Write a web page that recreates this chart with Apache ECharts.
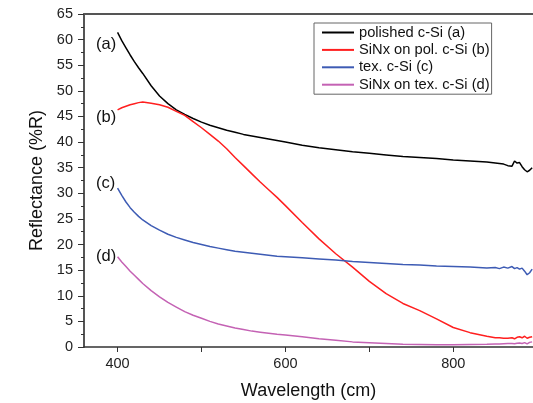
<!DOCTYPE html>
<html>
<head>
<meta charset="utf-8">
<script src="https://cdn.jsdelivr.net/npm/echarts@6/dist/echarts.min.js"></script>
<style>
  html, body { margin: 0; padding: 0; background: #fff; }
  #chart { width: 533px; height: 403px; }
</style>
</head>
<body>
<div id="chart"></div>
<script>
  // wavelength grid (nm), shared by all four spectra
  const wavelength = [400, 405, 410, 415, 420, 425, 430, 440, 450, 460, 470, 480, 490, 500, 510, 520, 530, 540, 550, 560,
    570, 580, 590, 600, 620, 640, 660, 680, 700, 720, 740, 760, 780, 800, 820, 840, 850, 855, 860, 865,
    870, 873, 876, 879, 882, 885, 888, 891, 894]

  const polished = [61.4, 59.8, 58.4, 57.0, 55.7, 54.5, 53.4, 51.0, 49.0, 47.5, 46.3, 45.4, 44.6, 43.9, 43.3, 42.8, 42.3, 41.9, 41.5, 41.2,
    40.9, 40.6, 40.3, 40.0, 39.4, 38.9, 38.5, 38.1, 37.8, 37.5, 37.2, 37.0, 36.8, 36.5, 36.3, 36.1, 35.9, 35.8, 35.7, 35.4,
    35.3, 36.3, 35.9, 36.0, 35.2, 34.6, 34.2, 34.5, 35.0]

  const sinxPolished = [46.3, 46.7, 47.0, 47.3, 47.5, 47.7, 47.8, 47.6, 47.3, 46.8, 46.0, 45.2, 44.0, 42.8, 41.5, 40.2, 38.7, 37.0, 35.4, 33.8,
    32.2, 30.7, 29.2, 27.6, 24.3, 21.1, 18.2, 15.6, 12.8, 10.4, 8.5, 7.1, 5.5, 3.8, 2.8, 2.1, 1.8, 1.8, 1.7, 1.7,
    1.8, 1.6, 1.9, 2.0, 1.8, 2.1, 1.7, 1.9, 2.0]

  const textured = [31.0, 29.6, 28.3, 27.2, 26.3, 25.5, 24.8, 23.7, 22.8, 22.0, 21.4, 20.9, 20.4, 20.0, 19.6, 19.3, 19.0, 18.7, 18.5, 18.3,
    18.1, 17.9, 17.7, 17.6, 17.4, 17.2, 17.0, 16.7, 16.5, 16.3, 16.1, 16.0, 15.8, 15.7, 15.6, 15.4, 15.5, 15.3, 15.6, 15.4,
    15.7, 15.3, 15.5, 15.2, 15.4, 14.8, 14.1, 14.5, 15.2]

  const sinxTextured = [17.6, 16.6, 15.7, 14.8, 14.0, 13.2, 12.4, 11.0, 9.8, 8.7, 7.8, 6.9, 6.2, 5.6, 5.0, 4.5, 4.1, 3.7, 3.4, 3.1,
    2.9, 2.7, 2.5, 2.35, 2.0, 1.6, 1.3, 1.0, 0.85, 0.7, 0.55, 0.5, 0.45, 0.45, 0.5, 0.55, 0.6, 0.6, 0.65, 0.7,
    0.7, 0.65, 0.75, 0.8, 0.7, 0.85, 0.6, 0.9, 1.0]

  const seriesNames = ['polished c-Si (a)', 'SiNx on pol. c-Si (b)', 'tex. c-Si (c)', 'SiNx on tex. c-Si (d)']
  const seriesColors = ['#000000', '#ff1f1f', '#3d5bb4', '#c462b4']
  const curveTags = ['(a)', '(b)', '(c)', '(d)']
  const xLabelValues = [400, 600, 800]
  const xTickValues = [400, 500, 600, 700, 800]

  const font = '"Liberation Sans", Arial, sans-serif'
  const axisGray = '#555'

  const chart = echarts.init(document.getElementById('chart'))

  const curves = [polished, sinxPolished, textured, sinxTextured]
  const tagY = [45, 118, 184, 257]

  chart.setOption({
    animation: false,
    grid: { left: 84, right: 0, top: 14, bottom: 56, outerBoundsMode: 'none' },
    legend: {
      orient: 'vertical',
      left: 314,
      top: 23,
      data: seriesNames,
      icon: 'path://M0,0 L32,0 L32,2 L0,2 Z',
      itemWidth: 32,
      itemHeight: 14,
      itemGap: 2.4,
      padding: [2, 2, 2, 8],
      borderColor: '#666',
      borderWidth: 1,
      textStyle: { fontFamily: font, fontSize: 14.7, color: '#111' },
    },
    xAxis: [
      {
        type: 'value',
        min: 360,
        max: 895,
        name: 'Wavelength (cm)',
        nameLocation: 'middle',
        nameGap: 35,
        nameTextStyle: { fontFamily: font, fontSize: 18, color: '#111' },
        axisLine: { show: true, lineStyle: { color: '#333', width: 1.5 } },
        axisTick: { show: true, length: 5, customValues: xTickValues, lineStyle: { color: '#333' } },
        axisLabel: { customValues: xLabelValues, margin: 9, fontFamily: font, fontSize: 14.5, color: '#222' },
        splitLine: { show: false },
      },
      {
        type: 'value',
        position: 'top',
        min: 360,
        max: 895,
        axisLine: { show: true, onZero: false, lineStyle: { color: axisGray, width: 2 } },
        axisTick: { show: false },
        axisLabel: { show: false },
        splitLine: { show: false },
      },
    ],
    yAxis: {
      type: 'value',
      min: 0,
      max: 65,
      interval: 5,
      name: 'Reflectance (%R)',
      nameLocation: 'middle',
      nameGap: 38,
      nameTextStyle: { fontFamily: font, fontSize: 18, color: '#111' },
      axisLine: { show: true, lineStyle: { color: axisGray, width: 2 } },
      axisTick: { show: true, length: 6, lineStyle: { color: '#333' } },
      minorTick: { show: true, splitNumber: 2, length: 3, lineStyle: { color: '#333' } },
      axisLabel: { margin: 11, fontFamily: font, fontSize: 14.5, color: '#222' },
      splitLine: { show: false },
    },
    graphic: curveTags.map((t, i) => ({
      type: 'text',
      left: 96,
      top: tagY[i] - 9,
      style: { text: t, font: '16.5px ' + font, fill: '#111' },
    })),
    series: curves.map((vals, i) => ({
      name: seriesNames[i],
      type: 'line',
      xAxisIndex: 0,
      symbol: 'none',
      smooth: false,
      lineStyle: { color: seriesColors[i], width: 1.5 },
      itemStyle: { color: seriesColors[i] },
      data: wavelength.map((w, k) => [w, vals[k]]),
    })),
  })
</script>
</body>
</html>
